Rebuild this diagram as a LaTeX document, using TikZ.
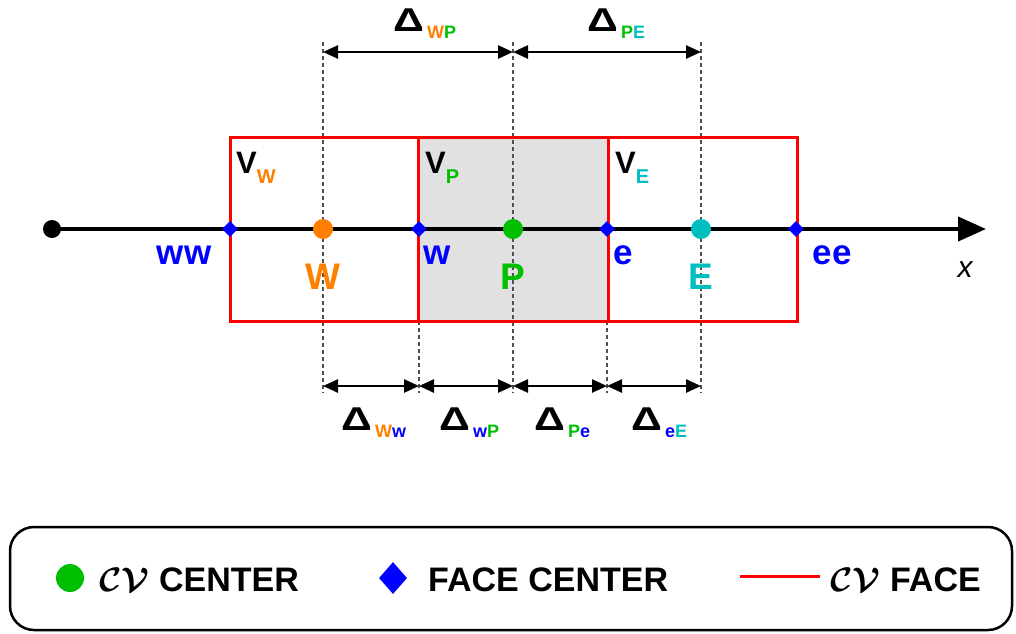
\RequirePackage{fix-cm}
\documentclass[tikz,border=0pt]{standalone}
\usepackage{fontspec}
\setmainfont{Liberation Sans}
\usetikzlibrary{arrows.meta,shapes.geometric}
\definecolor{cvorange}{RGB}{255,128,0}
\definecolor{cvgreen}{RGB}{0,190,0}
\definecolor{cvcyan}{RGB}{0,190,190}
\definecolor{cvblue}{RGB}{0,0,255}
\definecolor{cvred}{RGB}{255,0,0}
\definecolor{cvgray}{RGB}{225,225,225}
\definecolor{dashgray}{RGB}{80,80,80}
\newcommand{\dlab}[1]{\scalebox{1.3}[1]{\fontsize{33}{33}\selectfont\bfseries Δ}\hspace{3pt}\raisebox{-7pt}{\fontsize{18}{18}\selectfont\bfseries #1}}
\newcommand{\vlab}[1]{{\fontsize{31}{31}\selectfont\bfseries V}\raisebox{-10pt}{\fontsize{20}{20}\selectfont\bfseries #1}}
\begin{document}
\begin{tikzpicture}[x=1pt,y=-1pt,
  cvbox/.style={draw=cvred,line width=3pt},
  guide/.style={draw=dashgray,line width=1.1pt,dash pattern=on 4pt off 3pt},
  dimarrow/.style={line width=2.5pt,{Triangle[length=15pt,width=13pt]}-{Triangle[length=15pt,width=13pt]}},
  axisline/.style={line width=4pt,-{Triangle[length=28pt,width=24pt]}},
  ctrdot/.style={circle,inner sep=0pt,minimum size=20pt},
  facept/.style={diamond,fill=cvblue,inner sep=0pt,minimum size=16pt},
  biglab/.style={inner sep=0pt,anchor=base,font=\bfseries\fontsize{37}{37}\selectfont},
  smalllab/.style={inner sep=0pt,anchor=base,font=\bfseries\fontsize{35}{35}\selectfont},
  dimlab/.style={inner sep=0pt,anchor=base west},
  leglab/.style={inner sep=0pt,anchor=base west,font=\bfseries\boldmath\fontsize{34}{34}\selectfont}
]
\useasboundingbox (0,0) rectangle (1016,633);

% shaded control volume
\fill[cvgray] (418,137) rectangle (608,321);

% guide lines
\foreach \n/\xx in {gW/323,gP/513,gE/701}{
  \coordinate (\n top) at (\xx,42);
  \coordinate (\n bot) at (\xx,393);
  \draw[guide] (\n top) -- (\n bot);
}
\foreach \n/\xx in {gw/419,ge/607}{
  \coordinate (\n top) at (\xx,321);
  \coordinate (\n bot) at (\xx,393);
  \draw[guide] (\n top) -- (\n bot);
}

% control volume faces
\draw[cvbox] (230,137) rectangle (418,321);
\draw[cvbox] (418,137) rectangle (608,321);
\draw[cvbox] (608,137) rectangle (797,321);

% axis
\coordinate (xstart) at (52,229);
\coordinate (xend) at (986,229);
\draw[axisline] (xstart) -- (xend);
\node[circle,fill=black,inner sep=0pt,minimum size=18pt] (origin) at (xstart) {};

% centres
\node[ctrdot,fill=cvorange] (W) at (323,229) {};
\node[ctrdot,fill=cvgreen] (P) at (513,229) {};
\node[ctrdot,fill=cvcyan] (E) at (701,229) {};

% faces
\node[facept] (fww) at (230,229) {};
\node[facept] (fw) at (419,229) {};
\node[facept] (fe) at (607,229) {};
\node[facept] (fee) at (796,229) {};

% point labels
\node[smalllab,text=cvblue] (lww) at (184,264) {ww};
\node[biglab,text=cvorange] (lW) at (323,289) {W};
\node[smalllab,text=cvblue] (lw) at (437,264) {w};
\node[biglab,text=cvgreen] (lP) at (513,289) {P};
\node[smalllab,text=cvblue] (le) at (623,264) {e};
\node[biglab,text=cvcyan] (lE) at (701,289) {E};
\node[smalllab,text=cvblue] (lee) at (832,264) {ee};
\node[inner sep=0pt,anchor=base,font=\itshape\fontsize{30}{30}\selectfont] (lx) at (965,277) {x};

% volume labels
\node[dimlab] (vW) at (236,173) {\vlab{\textcolor{cvorange}{W}}};
\node[dimlab] (vP) at (425,173) {\vlab{\textcolor{cvgreen}{P}}};
\node[dimlab] (vE) at (615,173) {\vlab{\textcolor{cvcyan}{E}}};

% top dimensions
\coordinate (tW) at (323,52);
\coordinate (tP) at (513,52);
\coordinate (tE) at (701,52);
\draw[dimarrow] (tW) -- (tP);
\draw[dimarrow] (tP) -- (tE);
\node[dimlab] (dWP) at (393,31) {\dlab{\textcolor{cvorange}{W}\textcolor{cvgreen}{P}}};
\node[dimlab] (dPE) at (587,31) {\dlab{\textcolor{cvgreen}{P}\textcolor{cvcyan}{E}}};

% bottom dimensions
\coordinate (bW) at (323,386);
\coordinate (bw) at (419,386);
\coordinate (bP) at (513,386);
\coordinate (be) at (607,386);
\coordinate (bE) at (701,386);
\draw[dimarrow] (bW) -- (bw);
\draw[dimarrow] (bw) -- (bP);
\draw[dimarrow] (bP) -- (be);
\draw[dimarrow] (be) -- (bE);
\node[dimlab] (dWw) at (341,430) {\dlab{\textcolor{cvorange}{W}\textcolor{cvblue}{w}}};
\node[dimlab] (dwP) at (439,430) {\dlab{\textcolor{cvblue}{w}\textcolor{cvgreen}{P}}};
\node[dimlab] (dPe) at (534,430) {\dlab{\textcolor{cvgreen}{P}\textcolor{cvblue}{e}}};
\node[dimlab] (deE) at (631,430) {\dlab{\textcolor{cvblue}{e}\textcolor{cvcyan}{E}}};

% legend
\draw[line width=2.5pt,rounded corners=24pt] (10,527) rectangle (1012,630);
\node[circle,fill=cvgreen,inner sep=0pt,minimum size=28pt] (legdot) at (70,578) {};
\node[leglab] (legcvc) at (99,591) {$\mathcal{CV}$ CENTER};
\node[diamond,fill=cvblue,inner sep=0pt,minimum width=28pt,minimum height=32pt] (legface) at (393,578) {};
\node[leglab] (legfc) at (428,591) {FACE CENTER};
\coordinate (legl) at (740,576);
\coordinate (legr) at (820,576);
\draw[cvred,line width=3pt] (legl) -- (legr);
\node[leglab] (legcvf) at (830,591) {$\mathcal{CV}$ FACE};
\end{tikzpicture}
\end{document}
